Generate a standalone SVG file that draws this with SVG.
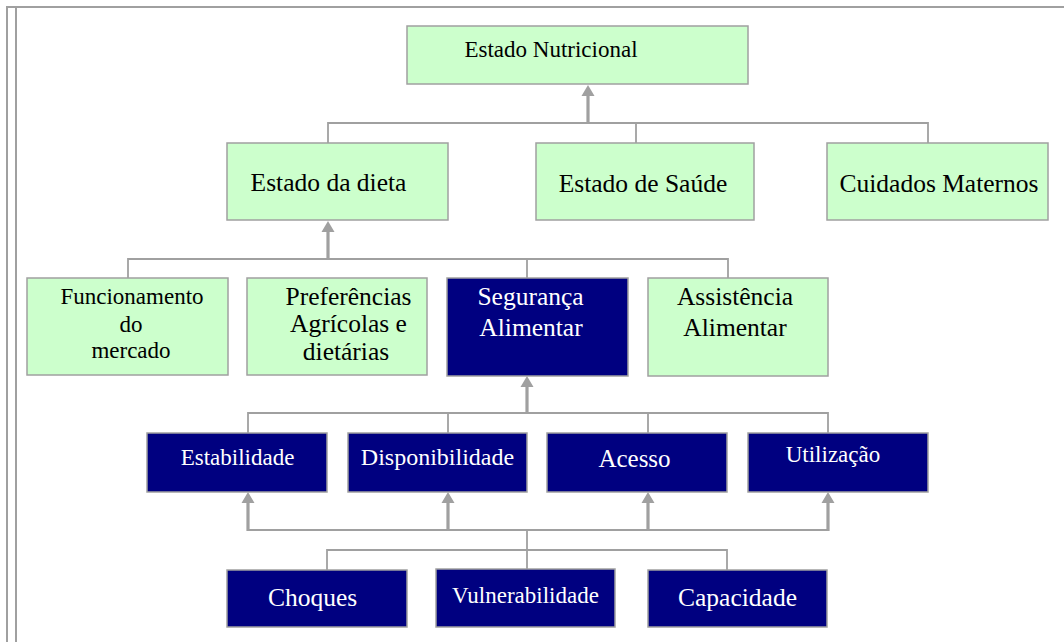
<svg xmlns="http://www.w3.org/2000/svg" width="1064" height="642" viewBox="0 0 1064 642">
<defs>
<style>
.g{fill:#ccffcc;stroke:#a0a0a0;stroke-width:1.5}
.b{fill:#000080;stroke:#a0a0a0;stroke-width:1.5}
.t{font-family:"Liberation Serif","Times New Roman",serif;text-anchor:middle;fill:#000}
.w{font-family:"Liberation Serif","Times New Roman",serif;text-anchor:middle;fill:#fff}
.c{fill:none;stroke:#a0a0a0;stroke-width:1.8}
.a{fill:none;stroke:#a0a0a0;stroke-width:3.2}
.bd{fill:none;stroke:#a0a0a0;stroke-width:2}
</style>
<marker id="ah" markerUnits="userSpaceOnUse" markerWidth="14" markerHeight="12" refX="6.5" refY="0" viewBox="0 0 13 12" orient="auto-start-reverse" overflow="visible">
<path d="M0,11 L6.5,0 L13,11 Z" fill="#a0a0a0"/>
</marker>
</defs>
<rect width="1064" height="642" fill="#fff"/>
<g id="border">
<path class="bd" d="M7,642 V7 H1064 M16,642 V7"/>
</g>
<g id="connectors">
<path class="c" d="M328,143 V123 H928 V143 M636,123 V143"/>
<path class="a" d="M588,123 V95"/>
<path d="M581.5,96 L588,85 L594.5,96 Z" fill="#a0a0a0"/>
<path class="c" d="M128,278 V259 H728 V278 M527,259 V278"/>
<path class="a" d="M328,259 V231"/>
<path d="M321.5,232 L328,221 L334.5,232 Z" fill="#a0a0a0"/>
<path class="c" d="M248,433 V413 H828 V433 M448,413 V433 M648,413 V433"/>
<path class="a" d="M527,413 V386"/>
<path d="M520.5,387 L527,376 L533.5,387 Z" fill="#a0a0a0"/>
<path class="c" d="M248,530 H828"/>
<path class="a" d="M248,531 V502 M448,531 V502 M648,531 V502 M828,531 V502"/>
<path d="M241.5,503 L248,492 L254.5,503 Z M441.5,503 L448,492 L454.5,503 Z M641.5,503 L648,492 L654.5,503 Z M821.5,503 L828,492 L834.5,503 Z" fill="#a0a0a0"/>
<path class="c" d="M527,530 V569 M327,570 V550 H727 V570"/>
</g>
<g id="estado-nutricional">
<rect class="g" x="407" y="26" width="341" height="58"/>
<text class="t" x="551" y="57" font-size="23">Estado Nutricional</text>
</g>
<g id="estado-dieta">
<rect class="g" x="227" y="143" width="221" height="77"/>
<text class="t" x="328.5" y="191" font-size="25.5">Estado da dieta</text>
</g>
<g id="estado-saude">
<rect class="g" x="536" y="143" width="218" height="77"/>
<text class="t" x="643" y="192" font-size="25.5">Estado de Saúde</text>
</g>
<g id="cuidados-maternos">
<rect class="g" x="827" y="143" width="221" height="77"/>
<text class="t" x="939" y="192" font-size="25.5">Cuidados Maternos</text>
</g>
<g id="funcionamento">
<rect class="g" x="27" y="278" width="201" height="97"/>
<text class="t" font-size="23"><tspan x="132" y="304">Funcionamento</tspan><tspan x="131" y="332">do</tspan><tspan x="131" y="358">mercado</tspan></text>
</g>
<g id="preferencias">
<rect class="g" x="247" y="278" width="180" height="97"/>
<text class="t" font-size="25.5"><tspan x="348.5" y="305">Preferências</tspan><tspan x="348.5" y="332">Agrícolas e</tspan><tspan x="346" y="360">dietárias</tspan></text>
</g>
<g id="seguranca">
<rect class="b" x="447" y="278" width="181" height="98"/>
<text class="w" font-size="25.5"><tspan x="530.5" y="305">Segurança</tspan><tspan x="531" y="336">Alimentar</tspan></text>
</g>
<g id="assistencia">
<rect class="g" x="648" y="278" width="180" height="98"/>
<text class="t" font-size="25.5"><tspan x="735" y="305">Assistência</tspan><tspan x="735" y="336">Alimentar</tspan></text>
</g>
<g id="estabilidade">
<rect class="b" x="147" y="433" width="180" height="59"/>
<text class="w" x="237.5" y="465" font-size="23">Estabilidade</text>
</g>
<g id="disponibilidade">
<rect class="b" x="348" y="433" width="179" height="59"/>
<text class="w" x="437.5" y="465" font-size="24">Disponibilidade</text>
</g>
<g id="acesso">
<rect class="b" x="547" y="433" width="180" height="59"/>
<text class="w" x="634.5" y="467" font-size="25">Acesso</text>
</g>
<g id="utilizacao">
<rect class="b" x="748" y="433" width="180" height="59"/>
<text class="w" x="833" y="462" font-size="23">Utilização</text>
</g>
<g id="choques">
<rect class="b" x="227" y="570" width="180" height="57"/>
<text class="w" x="312.5" y="606" font-size="25.5">Choques</text>
</g>
<g id="vulnerabilidade">
<rect class="b" x="436" y="569" width="179" height="58"/>
<text class="w" x="525.5" y="603" font-size="23">Vulnerabilidade</text>
</g>
<g id="capacidade">
<rect class="b" x="648" y="570" width="179" height="57"/>
<text class="w" x="737.5" y="606" font-size="25.5">Capacidade</text>
</g>
</svg>
